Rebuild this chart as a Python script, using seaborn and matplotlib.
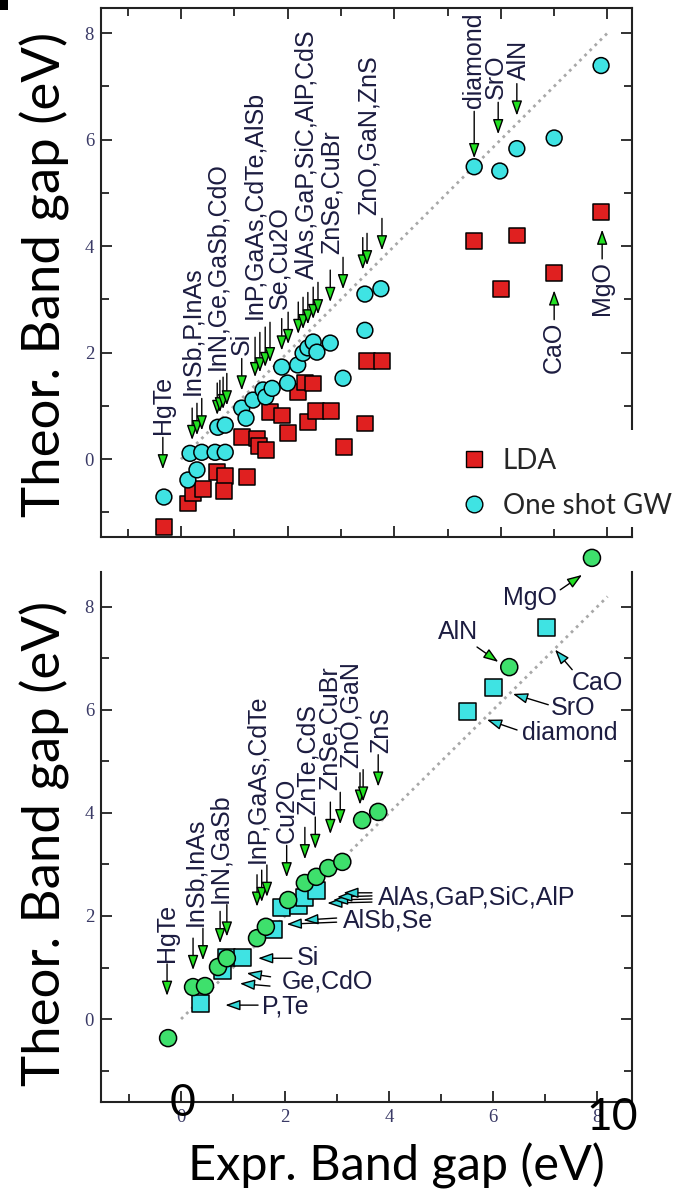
import matplotlib
matplotlib.use("Agg")
import matplotlib.pyplot as plt
import numpy as np
import pandas as pd
import seaborn as sns
from matplotlib.lines import Line2D
from matplotlib.patches import Rectangle
from matplotlib.ticker import MultipleLocator, FixedLocator

# ---------------- data ----------------
# top panel: LDA and one-shot GW vs experiment
lda_expt = [-0.32, 0.13, 0.23, 0.41, 0.68, 0.83, 0.81, 1.24, 1.14, 1.43, 1.46, 1.59,
            1.67, 1.89, 2.00, 2.19, 2.33, 2.48, 2.38, 2.53, 2.81, 3.06, 3.45, 3.49,
            3.77, 5.50, 6.00, 6.30, 7.00, 7.88]
lda_theo = [-1.28, -0.83, -0.64, -0.56, -0.24, -0.32, -0.60, -0.34, 0.41, 0.39, 0.25, 0.18,
            0.88, 0.82, 0.49, 1.26, 1.44, 1.42, 0.70, 0.90, 0.90, 0.23, 0.67, 1.84,
            1.84, 4.10, 3.20, 4.20, 3.50, 4.64]
gw_expt = [-0.32, 0.13, 0.30, 0.17, 0.39, 0.64, 0.83, 0.69, 0.83, 1.14, 1.22, 1.35,
           1.54, 1.59, 1.71, 1.89, 2.00, 2.19, 2.29, 2.38, 2.48, 2.55, 2.80, 3.04,
           3.45, 3.45, 3.75, 5.50, 5.98, 6.30, 7.00, 7.88]
gw_theo = [-0.71, -0.39, -0.20, 0.11, 0.13, 0.13, 0.13, 0.60, 0.64, 0.96, 0.77, 1.11,
           1.30, 1.17, 1.33, 1.73, 1.43, 1.77, 1.99, 2.09, 2.20, 2.01, 2.18, 1.52,
           2.42, 3.10, 3.20, 5.49, 5.41, 5.83, 6.03, 7.39]
top_methods = ["LDA", "One shot GW"]

# bottom panel: two sets of self-consistent results
circ_expt = [-0.25, 0.23, 0.46, 0.71, 0.88, 1.46, 1.63, 2.06, 2.38, 2.60, 2.83, 3.10,
             3.48, 3.79, 6.31, 7.90]
circ_theo = [-0.37, 0.62, 0.64, 1.01, 1.18, 1.57, 1.79, 2.31, 2.64, 2.76, 2.93, 3.05,
             3.86, 4.02, 6.83, 8.95]
sq_expt = [0.37, 0.79, 0.88, 1.19, 1.77, 1.94, 2.25, 2.38, 2.60, 5.50, 6.00, 7.02]
sq_theo = [0.31, 0.95, 1.20, 1.20, 1.73, 2.16, 2.21, 2.35, 2.50, 5.96, 6.43, 7.59]

# reference line y = x
top_diag = [0.0, 8.0]
bot_diag = [0.0, 8.2]

# top panel labels with downward arrows: text, experimental gaps of arrows, arrow length
top_down_text = ["HgTe", "InSb,P,InAs", "InN,Ge,GaSb,CdO", "Si", "InP,GaAs,CdTe,AlSb",
                 "Se,Cu2O", "AlAs,GaP,SiC,AlP,CdS", "ZnSe,CuBr", "ZnO,GaN,ZnS",
                 "diamond", "SrO", "AlN"]
top_down_gaps = [[-0.34], [0.21, 0.30, 0.39], [0.68, 0.73, 0.79, 0.86], [1.14],
                 [1.39, 1.48, 1.58, 1.67], [1.89, 2.01], [2.20, 2.29, 2.38, 2.48, 2.57],
                 [2.80, 3.04], [3.41, 3.49, 3.77], [5.50], [5.95], [6.30]]
top_down_len = [0.6, 0.6, 0.6, 0.6, 0.75, 0.6, 0.6, 0.6, 0.6, 0.88, 0.6, 0.6]
top_down_dx = [0.0, 0.0, 0.0, 0.0, -0.01, -0.04, 0.16, 0.03, 0.12, 0.0, -0.04, 0.04]
# top panel labels with upward arrows (pointing to LDA squares)
top_up_text = ["CaO", "MgO"]
top_up_gap = [7.00, 7.90]
top_up_target = [3.50, 4.64]

# bottom panel labels with downward arrows
bot_down_text = ["HgTe", "InSb,InAs", "InN,GaSb", "InP,GaAs,CdTe", "Cu2O",
                 "ZnTe,CdS", "ZnSe,CuBr", "ZnO,GaN", "ZnS"]
bot_down_gaps = [[-0.27], [0.23, 0.42], [0.75, 0.88], [1.46, 1.55, 1.65], [2.03],
                 [2.38, 2.58], [2.87, 3.06], [3.44, 3.50], [3.79]]
bot_down_dx = [0.0, 0.05, 0.0, 0.0, 0.0, 0.06, -0.02, -0.17, 0.05]
# bottom panel labels with sideways arrows: text, text anchor, alignment, arrows, head colour
bot_side_text = ["P,Te", "Ge,CdO", "Si", "AlSb,Se", "AlAs,GaP,SiC,AlP",
                 "diamond", "SrO", "CaO", "AlN", "MgO"]
bot_side_anchor = [(1.56, 0.25), (1.94, 0.72), (2.23, 1.18), (3.12, 1.92), (3.79, 2.35),
                   (6.56, 5.55), (7.10, 6.04), (7.52, 6.52), (5.72, 7.51), (7.22, 8.17)]
bot_side_ha = ["left"] * 8 + ["right", "right"]
bot_side_arrows = [
    [((1.48, 0.27), (0.85, 0.27))],
    [((1.72, 0.82), (1.26, 0.89)), ((1.71, 0.64), (1.13, 0.69))],
    [((2.13, 1.18), (1.48, 1.18))],
    [((2.99, 1.96), (2.35, 1.92)), ((2.99, 1.88), (2.03, 1.84))],
    [((3.67, 2.27), (2.81, 2.25)), ((3.67, 2.33), (2.92, 2.31)),
     ((3.67, 2.39), (3.00, 2.37)), ((3.67, 2.45), (3.12, 2.45))],
    [((6.46, 5.61), (5.88, 5.81))],
    [((7.06, 6.10), (6.38, 6.31))],
    [((7.52, 6.78), (7.19, 7.17))],
    [((5.69, 7.22), (6.10, 6.93))],
    [((7.29, 8.33), (7.71, 8.62))],
]
bot_side_head = ["cyan"] * 8 + ["green", "green"]

# ---------------- style ----------------
RED = "#e02020"
CYAN = "#3fe3e3"
GREEN = "#3ee06c"
HEAD_GREEN = "#22e022"
HEAD_CYAN = "#33d6d6"
LABEL = "#1c1c40"
TICKC = "#3a3a66"
W, H = 678, 1190

sns.set_style("ticks")
plt.rcParams["font.family"] = ["Liberation Sans", "DejaVu Sans"]

fig = plt.figure(figsize=(W / 100, H / 100), dpi=100)


def fa(l, t, r, b):
    return [l / W, 1 - b / H, (r - l) / W, (b - t) / H]


ax1 = fig.add_axes(fa(101, 8, 632, 537))
ax2 = fig.add_axes(fa(101, 545, 632, 1102))

top_df = pd.concat([
    pd.DataFrame({"expt": lda_expt, "theo": lda_theo, "method": top_methods[0]}),
    pd.DataFrame({"expt": gw_expt, "theo": gw_theo, "method": top_methods[1]}),
], ignore_index=True)
bot_df = pd.concat([
    pd.DataFrame({"expt": sq_expt, "theo": sq_theo, "method": "sq"}),
    pd.DataFrame({"expt": circ_expt, "theo": circ_theo, "method": "circ"}),
], ignore_index=True)

ax1.plot(top_diag, top_diag, color="#a8a8a8", ls=(0, (1, 1.6)), lw=2.0, zorder=1)
ax2.plot(bot_diag, bot_diag, color="#a8a8a8", ls=(0, (1, 1.6)), lw=2.0, zorder=1)

sns.scatterplot(data=top_df, x="expt", y="theo", hue="method", style="method",
                palette={"LDA": RED, "One shot GW": CYAN},
                markers={"LDA": "s", "One shot GW": "o"},
                s=130, edgecolor="black", linewidth=1.1, legend=False, ax=ax1, zorder=3)
sns.scatterplot(data=bot_df, x="expt", y="theo", hue="method", style="method",
                palette={"sq": CYAN, "circ": GREEN},
                markers={"sq": "s", "circ": "o"},
                s=150, edgecolor="black", linewidth=1.1, legend=False, ax=ax2, zorder=3,
                clip_on=False)


def arrow(ax, tail, tip, head):
    ax.annotate("", xy=tip, xytext=tail, annotation_clip=False,
                arrowprops=dict(arrowstyle="-|>,head_length=0.9,head_width=0.32",
                                fc=head, ec="black", lw=1.0, shrinkA=0, shrinkB=0,
                                mutation_scale=10), zorder=5)


LFS = 18
# top panel annotations
for txt, gaps, ln, dx in zip(top_down_text, top_down_gaps, top_down_len, top_down_dx):
    top_tail = -99
    for g in gaps:
        tip = g + 0.15
        arrow(ax1, (g, tip + ln), (g, tip), HEAD_GREEN)
        top_tail = max(top_tail, tip + ln)
    ax1.text(gaps[0] + dx, top_tail + 0.06, txt, rotation=90, ha="center", va="bottom",
             fontsize=LFS, color=LABEL, zorder=6)
for txt, g, tgt in zip(top_up_text, top_up_gap, top_up_target):
    tip = tgt - 0.33
    tail = tip - 0.55
    arrow(ax1, (g, tail), (g, tip), HEAD_GREEN)
    ax1.text(g, tail - 0.03, txt, rotation=90, ha="center", va="top",
             fontsize=LFS, color=LABEL, zorder=6)

# bottom panel annotations
for txt, gaps, dx in zip(bot_down_text, bot_down_gaps, bot_down_dx):
    top_tail = -99
    for g in gaps:
        tip = g + 0.72
        arrow(ax2, (g, tip + 0.62), (g, tip), HEAD_GREEN)
        top_tail = max(top_tail, tip + 0.62)
    ax2.text(gaps[0] + dx, top_tail + 0.04, txt, rotation=90, ha="center", va="bottom",
             fontsize=LFS, color=LABEL, zorder=6)
for txt, anc, ha, arrs, hc in zip(bot_side_text, bot_side_anchor, bot_side_ha,
                                  bot_side_arrows, bot_side_head):
    for tail, tip in arrs:
        arrow(ax2, tail, tip, HEAD_CYAN if hc == "cyan" else HEAD_GREEN)
    ax2.text(anc[0], anc[1], txt, ha=ha, va="center", fontsize=LFS, color=LABEL, zorder=6)

# axes styling
for ax in (ax1, ax2):
    ax.set_xlabel("")
    ax.set_ylabel("")
    ax.xaxis.set_major_locator(MultipleLocator(2))
    ax.xaxis.set_minor_locator(MultipleLocator(1))
    ax.yaxis.set_major_locator(MultipleLocator(2))
    ax.yaxis.set_minor_locator(MultipleLocator(1))
    ax.tick_params(which="both", direction="in", width=1.3, colors="#222222",
                   labelcolor=TICKC, labelsize=13.5, pad=5)
    ax.tick_params(which="major", length=8)
    ax.tick_params(which="minor", length=5.5)
    for sp in ax.spines.values():
        sp.set_linewidth(1.5)
        sp.set_color("#222222")

ax1.set_xlim(-1.50, 8.46)
ax1.set_ylim(-1.46, 8.47)
ax1.tick_params(which="both", top=True, right=True, labelbottom=False)

ax2.set_xlim(-1.54, 8.67)
ax2.set_ylim(-1.61, 9.20)
ax2.yaxis.set_major_locator(FixedLocator([0, 2, 4, 6, 8]))
ax2.yaxis.set_minor_locator(FixedLocator([-1, 1, 3, 5, 7]))
ax2.spines["top"].set_visible(False)
ax2.spines["left"].set_bounds(-1.61, 8.68)
ax2.spines["right"].set_bounds(-1.61, 8.68)
ax2.tick_params(which="both", top=False, right=True)
for lab in ax2.get_xticklabels() + ax2.get_yticklabels() + ax1.get_yticklabels():
    lab.set_family(["Liberation Serif", "DejaVu Serif"])

# legend (white box overlapping the corner of the top panel)
fig.add_artist(Rectangle((455 / W, 1 - 527 / H), (W - 455) / W, 97 / H,
                         transform=fig.transFigure, facecolor="white",
                         edgecolor="none", zorder=10))
handles = [
    Line2D([], [], ls="none", marker="s", markersize=11, markerfacecolor=RED,
           markeredgecolor="black", markeredgewidth=1.0),
    Line2D([], [], ls="none", marker="o", markersize=12, markerfacecolor=CYAN,
           markeredgecolor="black", markeredgewidth=1.0),
]
leg = fig.legend(handles, top_methods, loc="upper left",
                 bbox_to_anchor=(446 / W, 1 - 434 / H), frameon=False,
                 prop={"family": "Lato", "size": 20}, handlelength=1.0,
                 handletextpad=0.55, labelspacing=0.68, borderpad=0.0)
leg.set_zorder(11)

# overlay axis titles and large tick numbers
BIG = ["Lato", "DejaVu Sans"]
fig.text(45 / W, 1 - 274 / H, "Theor. Band gap (eV)", rotation=90, ha="center",
         va="center", fontsize=38, family=BIG, color="black")
fig.text(45 / W, 1 - 843 / H, "Theor. Band gap (eV)", rotation=90, ha="center",
         va="center", fontsize=38, family=BIG, color="black")
fig.text(396 / W, 1 - 1166 / H, "Expr. Band gap (eV)", ha="center", va="center",
         fontsize=35, family=BIG, color="black")
fig.text(183 / W, 1 - 1104 / H, "0", ha="center", va="center", fontsize=32,
         family=BIG, color="black", zorder=12)
fig.text(612 / W, 1 - 1118 / H, "10", ha="center", va="center", fontsize=32,
         family=BIG, color="black", zorder=12)

# small black cropping mark in the corner
fig.add_artist(Rectangle((0, 1 - 10 / H), 8 / W, 10 / H, transform=fig.transFigure,
                         facecolor="black", edgecolor="none", zorder=12))

fig.savefig("out.png", dpi=100)
